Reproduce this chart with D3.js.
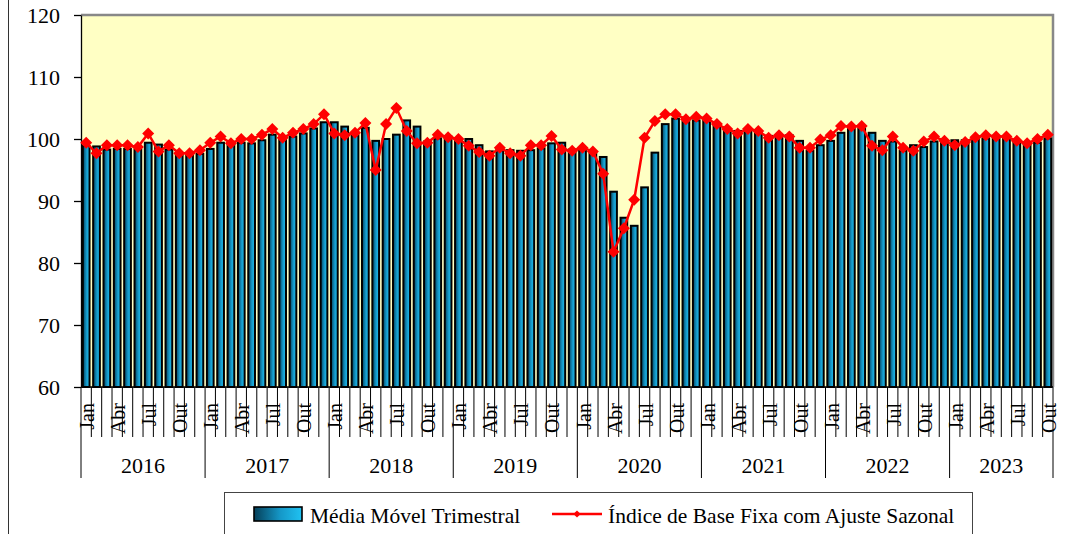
<!DOCTYPE html>
<html>
<head>
<meta charset="utf-8">
<script src="https://cdn.jsdelivr.net/npm/d3@7"></script>
<style>
  body { margin: 0; background: #fff; }
  text { font-family: 'Liberation Serif', 'DejaVu Serif', serif; fill: #000; }
</style>
</head>
<body>
<svg id="chart" width="1065" height="534"></svg>
<script>
// categories
const years = ['2016', '2017', '2018', '2019', '2020', '2021', '2022', '2023']
const monthNames = ['Jan', 'Fev', 'Mar', 'Abr', 'Mai', 'Jun', 'Jul', 'Ago', 'Set', 'Out', 'Nov', 'Dez']
const shownMonths = ['Jan', 'Abr', 'Jul', 'Out']
const yTicks = [60, 70, 80, 90, 100, 110, 120]

// Média Móvel Trimestral (bars), Jan 2016 .. Out 2023
const mediaMovel = [
  98.9, 98.8, 98.3, 98.4, 98.4, 98.3, 99.4, 99.1, 98.3, 97.5, 97.4, 97.6,
  98.4, 99.4, 99.3, 99.4, 99.3, 99.8, 100.7, 100.1, 100.4, 100.9, 101.7, 102.7,
  102.7, 102.0, 100.6, 101.8, 99.7, 100.0, 100.7, 103.0, 102.0, 99.6, 100.1, 100.4,
  99.8, 100.0, 99.0, 98.0, 98.2, 98.2, 98.1, 98.2, 98.5, 99.3, 99.4, 98.3,
  98.4, 97.7, 97.1, 91.5, 87.3, 86.0, 92.2, 97.8, 102.4, 103.3, 102.8, 103.0,
  103.0, 102.3, 101.6, 101.3, 101.3, 101.1, 100.5, 100.4, 100.6, 99.7, 98.1, 99.0,
  99.7, 101.0, 101.6, 101.7, 101.0, 99.7, 99.6, 98.1, 99.0, 98.7, 99.6, 99.6,
  99.8, 99.8, 100.0, 100.1, 100.1, 100.1, 99.6, 99.3, 99.4, 100.1
]

// Índice de Base Fixa com Ajuste Sazonal (line)
const indiceAjustado = [
  99.4, 97.7, 99.0, 99.0, 99.0, 98.7, 100.9, 98.0, 99.0, 97.7, 97.7, 98.2,
  99.4, 100.4, 99.3, 100.0, 100.0, 100.7, 101.6, 100.2, 101.0, 101.6, 102.4, 104.0,
  100.9, 100.6, 101.0, 102.6, 95.0, 102.4, 105.0, 101.3, 99.3, 99.4, 100.7, 100.3,
  100.0, 98.9, 97.9, 97.3, 98.6, 97.7, 97.3, 99.0, 99.0, 100.5, 98.3, 98.1,
  98.6, 98.0, 94.4, 81.8, 85.6, 90.2, 100.2, 102.9, 104.0, 104.0, 103.2, 103.6,
  103.3, 102.4, 101.6, 100.9, 101.6, 101.3, 100.2, 100.6, 100.4, 98.6, 98.6, 99.9,
  100.6, 102.1, 102.0, 102.1, 98.9, 98.2, 100.4, 98.6, 98.1, 99.6, 100.4, 99.7,
  99.0, 99.5, 100.3, 100.6, 100.4, 100.4, 99.7, 99.3, 100.0, 100.7
]

// build the month table
var rows = []
years.forEach(function(yr) {
  monthNames.forEach(function(m) {
    if (rows.length < mediaMovel.length) {
      var i = rows.length
      rows.push({ key: yr + '-' + m, year: yr, month: m, bar: mediaMovel[i], line: indiceAjustado[i] })
    }
  })
})

// plot box (window.top is reserved, so no bare "top" here)
var pL = 81, pR = 1053, pT = 15, pB = 387
var svg = d3.select('#chart')

var x = d3.scaleBand()
  .domain(rows.map(d => d.key))
  .range([pL, pR])
  .paddingInner(0.35)
  .paddingOuter(0.175)
var y = d3.scaleLinear().domain([60, 120]).range([pB, pT])

var defs = svg.append('defs')
var grad = defs.append('linearGradient').attr('id', 'barFill')
  .attr('x1', 0).attr('x2', 1).attr('y1', 0).attr('y2', 0)
grad.append('stop').attr('offset', '0%').attr('stop-color', '#053f58')
grad.append('stop').attr('offset', '55%').attr('stop-color', '#1598c8')
grad.append('stop').attr('offset', '100%').attr('stop-color', '#20c2f2')

// outer frame line on the left
svg.append('line').attr('x1', 8.5).attr('x2', 8.5).attr('y1', 0).attr('y2', 534)
  .attr('stroke', '#333').attr('stroke-width', 1)

// plot area
svg.append('rect').attr('x', pL).attr('y', pT)
  .attr('width', pR - pL).attr('height', pB - pT)
  .attr('fill', '#ffffc4')
svg.append('path')
  .attr('d', `M${pL},${pT}H${pR}V${pB}`)
  .attr('fill', 'none').attr('stroke', '#888').attr('stroke-width', 2.5)

// bars
svg.append('g').selectAll('rect')
  .data(rows)
  .join('rect')
  .attr('x', d => x(d.key))
  .attr('y', d => y(d.bar))
  .attr('width', x.bandwidth())
  .attr('height', d => y(60) - y(d.bar))
  .attr('fill', 'url(#barFill)')
  .attr('stroke', '#000')
  .attr('stroke-width', 2)

// y axis
var yAxis = svg.append('g')
  .attr('transform', `translate(${pL},0)`)
  .call(d3.axisLeft(y).tickValues(yTicks).tickSize(7).tickSizeOuter(0).tickPadding(14))
  .attr('font-family', "'Liberation Serif', serif")
yAxis.select('.domain').attr('stroke', '#000').attr('stroke-width', 1.3)
yAxis.selectAll('.tick line').attr('stroke', '#000').attr('stroke-width', 1.3)
yAxis.selectAll('.tick text').style('font-size', '22px').attr('fill', '#000')

// x axis: month separators, labels, year separators
var step = x.step()
var edge = d => x(d.key) - (step - x.bandwidth()) / 2
var xg = svg.append('g')
xg.append('line').attr('x1', pL).attr('x2', pR).attr('y1', pB).attr('y2', pB)
  .attr('stroke', '#000').attr('stroke-width', 1.3)
xg.selectAll('line.sep')
  .data(rows.concat([null]))
  .join('line')
  .attr('class', 'sep')
  .attr('x1', d => d ? edge(d) : pR)
  .attr('x2', d => d ? edge(d) : pR)
  .attr('y1', pB)
  .attr('y2', d => (!d || d.month === 'Jan') ? 478 : 437)
  .attr('stroke', '#000').attr('stroke-width', 1)

xg.selectAll('text.mes')
  .data(rows.filter(d => shownMonths.includes(d.month)))
  .join('text')
  .attr('class', 'mes')
  .attr('transform', d => `translate(${x(d.key) + x.bandwidth() / 2 + 1},403) rotate(-90)`)
  .attr('text-anchor', 'end')
  .attr('dominant-baseline', 'central')
  .style('font-size', '20px')
  .text(d => d.month)

xg.selectAll('text.ano')
  .data(years)
  .join('text')
  .attr('class', 'ano')
  .attr('x', function(yr) {
    var ms = rows.filter(d => d.year === yr)
    var a = edge(ms[0])
    var b = yr === years[years.length - 1] ? pR : edge(ms[ms.length - 1]) + step
    return (a + b) / 2
  })
  .attr('y', 473)
  .attr('text-anchor', 'middle')
  .style('font-size', '22px')
  .text(d => d)

// line with diamonds
var line = d3.line()
  .x(d => x(d.key) + x.bandwidth() / 2)
  .y(d => y(d.line))
svg.append('path')
  .datum(rows)
  .attr('d', line)
  .attr('fill', 'none')
  .attr('stroke', '#ff0000')
  .attr('stroke-width', 2.5)
svg.append('g').selectAll('path')
  .data(rows)
  .join('path')
  .attr('d', d3.symbol(d3.symbolSquare, 72))
  .attr('transform', d => `translate(${x(d.key) + x.bandwidth() / 2},${y(d.line)}) rotate(45)`)
  .attr('fill', '#ff0000')

// legend
var lg = svg.append('g')
lg.append('rect').attr('x', 224.5).attr('y', 492.5).attr('width', 748).attr('height', 50)
  .attr('fill', '#fff').attr('stroke', '#444').attr('stroke-width', 1)
lg.append('rect').attr('x', 254).attr('y', 507).attr('width', 48).attr('height', 14)
  .attr('fill', 'url(#barFill)').attr('stroke', '#000').attr('stroke-width', 1.6)
lg.append('text').attr('x', 310).attr('y', 523).style('font-size', '21.5px')
  .text('Média Móvel Trimestral')
lg.append('line').attr('x1', 552).attr('x2', 602).attr('y1', 514).attr('y2', 514)
  .attr('stroke', '#ff0000').attr('stroke-width', 2.5)
lg.append('path')
  .attr('d', d3.symbol(d3.symbolSquare, 26))
  .attr('transform', 'translate(577,514) rotate(45)')
  .attr('fill', '#ff0000')
lg.append('text').attr('x', 608).attr('y', 523).style('font-size', '21.5px')
  .text('Índice de Base Fixa com Ajuste Sazonal')
</script>
</body>
</html>
